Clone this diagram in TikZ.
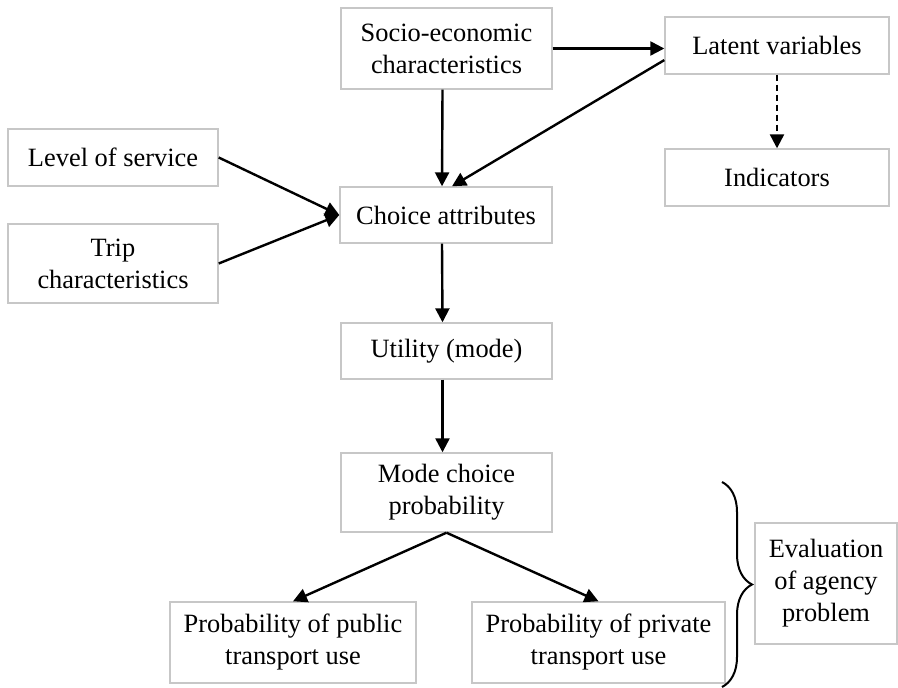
\documentclass[tikz,border=0pt]{standalone}
\usepackage{fontspec}
\setmainfont{Liberation Serif}
\usetikzlibrary{arrows.meta,decorations.pathreplacing,calc}
\tikzset{
	box/.style={draw=black!22, line width=0.7pt, fill=white, align=center, inner sep=2pt, font=\fontsize{13.2}{16}\selectfont},
	arr/.style={line width=1.2pt, -{Triangle[length=7pt,width=7pt]}},
	curly/.style={line width=1pt, decorate, decoration={brace, amplitude=15pt}},
}
\begin{document}
\begin{tikzpicture}[x=0.5pt,y=-0.5pt]
	\useasboundingbox (0,0) rectangle (898,688);
	\node[box, minimum width=105.5pt, minimum height=40.5pt] (socio) at (446.5,48.5) {Socio-economic\\characteristics};
	\node[box, minimum width=112pt, minimum height=28.5pt] (latent) at (777,45.5) {Latent variables};
	\node[box, minimum width=112pt, minimum height=28.5pt] (indic) at (777,177.5) {Indicators};
	\node[box, minimum width=105pt, minimum height=28.5pt] (level) at (113,157.5) {Level of service};
	\node[box, minimum width=105pt, minimum height=39.5pt] (trip) at (113,263.5) {Trip\\characteristics};
	\node[box, minimum width=106pt, minimum height=28pt] (choice) at (446,215) {Choice attributes};
	\node[box, minimum width=105.5pt, minimum height=28pt] (util) at (446.5,351) {Utility (mode)};
	\node[box, minimum width=105.5pt, minimum height=39.5pt] (mode) at (446.5,492.5) {Mode choice\\probability};
	\node[box, minimum width=123pt, minimum height=40.5pt] (public) at (293,642.5) {Probability of public\\transport use};
	\node[box, minimum width=126.5pt, minimum height=40.5pt] (private) at (598.5,642.5) {Probability of private\\transport use};
	\node[box, minimum width=71pt, minimum height=60.5pt] (eval) at (826,583.5) {Evaluation\\of agency\\problem};
	\coordinate (bracetop) at (722,482);
	\coordinate (bracebot) at (722,687);

	\draw[arr] (socio.east) -- (latent.west |- socio.east);
	\draw[arr] ([xshift=-2pt]socio.south) -- ([xshift=-2pt]choice.north);
	\draw[arr] ($(latent.south west)!0.25!(latent.north west)$) -- ([xshift=3pt]choice.north);
	\draw[arr, dash pattern=on 3pt off 2pt] (latent.south) -- (indic.north);
	\draw[arr] (level.east) -- (choice.west);
	\draw[arr] (trip.east) -- (choice.west);
	\draw[arr] ([xshift=-2pt]choice.south) -- ([xshift=-2pt]util.north);
	\draw[arr] ([xshift=-2pt]util.south) -- ([xshift=-2pt]mode.north);
	\draw[arr] (mode.south) -- (public.north);
	\draw[arr] (mode.south) -- (private.north);
	\draw[curly] (bracetop) -- (bracebot);
\end{tikzpicture}
\end{document}
